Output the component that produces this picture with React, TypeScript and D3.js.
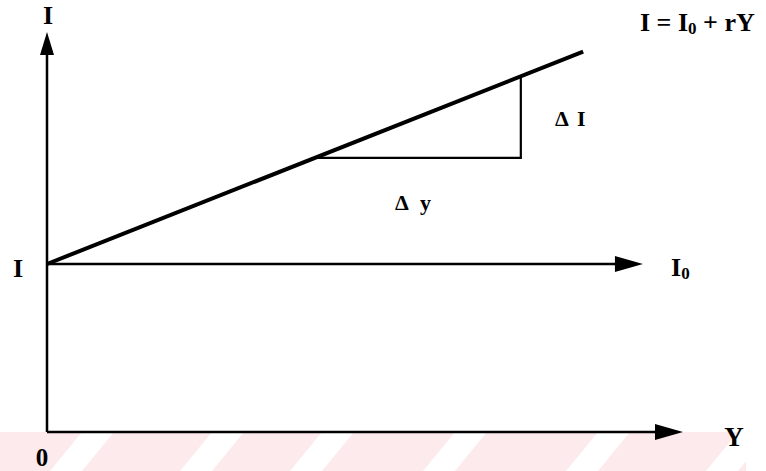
import React from "react";
import * as d3 from "d3";

// Data (in abstract axis units 0..100)
const axisMax = [100, 100]; // [Y max, I max]
const intercept = [42]; // I0 level
const slope = [0.63]; // r
const lineXs = [0, 84.3]; // extent of I = I0 + rY
const triangleXs = [42.1, 74.5]; // Δy run
const i0LineEnd = [93.7];
const stripeStarts = [-80, 50, 180, 290, 423, 566, 706];

const W = 766;
const H = 471;
const font = "'Liberation Serif', 'Times New Roman', serif";

export default function App() {
  const x = d3.scaleLinear().domain([0, axisMax[0]]).range([47, 683]);
  const y = d3.scaleLinear().domain([0, axisMax[1]]).range([432, 32]);
  const I0 = intercept[0];
  const r = slope[0];
  const f = (v: number) => I0 + r * v;

  const line = d3
    .line<number>()
    .x((d) => x(d))
    .y((d) => y(f(d)));

  const tri = d3
    .line<[number, number]>()
    .x((d) => x(d[0]))
    .y((d) => y(d[1]));
  const triPts: [number, number][] = [
    [triangleXs[0], f(triangleXs[0])],
    [triangleXs[1], f(triangleXs[0])],
    [triangleXs[1], f(triangleXs[1])],
  ];

  const x0 = x(0);
  const yTop = y(axisMax[1]);
  const xRight = x(axisMax[0]);
  const yBase = y(0);
  const yI0 = y(I0);
  const xI0End = x(i0LineEnd[0]);

  const bandTop = 432;
  const bandH = H - bandTop;

  return (
    <svg
      width={W}
      height={H}
      style={{ position: "absolute", left: 0, top: 0, background: "#fff" }}
    >
      {/* watermark band */}
      <rect x={0} y={bandTop} width={746} height={bandH} fill="#fdeaec" />
      {stripeStarts.map((s, i) => (
        <polygon
          key={i}
          points={`${s},${H} ${s + 32},${H} ${s + 64},${bandTop} ${s + 32},${bandTop}`}
          fill="#ffffff"
        />
      ))}

      {/* vertical axis */}
      <line x1={x0} y1={yBase} x2={x0} y2={yTop + 18} stroke="#000" strokeWidth={2.5} />
      <polygon
        points={`${x0},${yTop} ${x0 - 7},${yTop + 23} ${x0 + 7},${yTop + 23}`}
        fill="#000"
      />
      {/* horizontal axis */}
      <line x1={x0} y1={yBase} x2={xRight - 20} y2={yBase} stroke="#000" strokeWidth={2.5} />
      <polygon
        points={`${xRight},${yBase} ${xRight - 28},${yBase - 8} ${xRight - 28},${yBase + 8}`}
        fill="#000"
      />
      {/* I0 line */}
      <line x1={x0} y1={yI0} x2={xI0End - 20} y2={yI0} stroke="#000" strokeWidth={2.5} />
      <polygon
        points={`${xI0End},${yI0} ${xI0End - 28},${yI0 - 8} ${xI0End - 28},${yI0 + 8}`}
        fill="#000"
      />
      {/* investment function */}
      <path d={line(lineXs) || ""} stroke="#000" strokeWidth={4} fill="none" />
      {/* slope triangle */}
      <path d={tri(triPts) || ""} stroke="#000" strokeWidth={2.2} fill="none" />

      {/* labels */}
      <g fontFamily={font} fontWeight="bold" fill="#000">
        <text x={x0 + 1} y={24} fontSize={26} textAnchor="middle">I</text>
        <text x={18} y={277} fontSize={26} textAnchor="middle">I</text>
        <text x={671} y={276} fontSize={26}>
          I<tspan fontSize={17} dy={3}>0</tspan>
        </text>
        <text x={42} y={466} fontSize={25} textAnchor="middle">0</text>
        <text x={734} y={446} fontSize={27} textAnchor="middle">Y</text>
        <text x={640} y={31} fontSize={26}>
          I = I<tspan fontSize={17} dy={3}>0</tspan>
          <tspan dy={-3}> + rY</tspan>
        </text>
        <text x={555} y={126} fontSize={22}>Δ</text>
        <text x={577} y={126} fontSize={22}>I</text>
        <text x={395} y={210} fontSize={22}>Δ</text>
        <text x={420} y={210} fontSize={22}>y</text>
      </g>
    </svg>
  );
}
